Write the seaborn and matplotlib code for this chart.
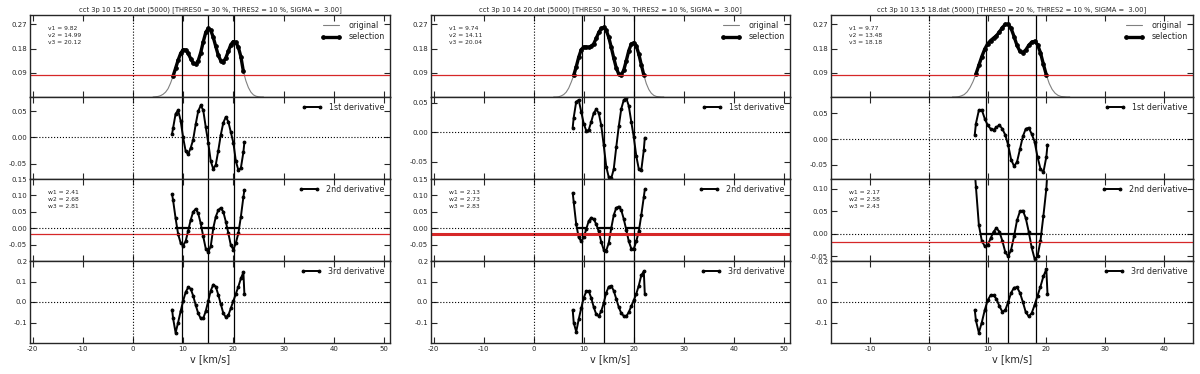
import numpy as np
import pandas as pd
import seaborn as sns
import matplotlib
matplotlib.use("Agg")
import matplotlib.pyplot as plt
from matplotlib.ticker import MultipleLocator

# ---- data ----
titles = ["cct 3p 10 15 20.dat (5000) [THRES0 = 30 %, THRES2 = 10 %, SIGMA =  3.00]",
          "cct 3p 10 14 20.dat (5000) [THRES0 = 30 %, THRES2 = 10 %, SIGMA =  3.00]",
          "cct 3p 10 13.5 18.dat (5000) [THRES0 = 20 %, THRES2 = 10 %, SIGMA =  3.00]"]

v_spec_ab = [4.0, 4.5, 5.0, 5.5, 6.0, 6.5, 7.0, 7.5, 8.0, 8.5, 9.0, 9.5, 10.0, 10.5, 11.0,
             11.5, 12.0, 12.5, 13.0, 13.5, 14.0, 14.5, 15.0, 15.5, 16.0, 16.5, 17.0, 17.5,
             18.0, 18.5, 19.0, 19.5, 20.0, 20.5, 21.0, 21.5, 22.0, 22.5, 23.0, 23.5, 24.0,
             24.5, 25.0, 25.5, 26.0]
v_spec_c = [4.0, 4.5, 5.0, 5.5, 6.0, 6.5, 7.0, 7.5, 8.0, 8.5, 9.0, 9.5, 10.0, 10.5, 11.0,
            11.5, 12.0, 12.5, 13.0, 13.5, 14.0, 14.5, 15.0, 15.5, 16.0, 16.5, 17.0, 17.5,
            18.0, 18.5, 19.0, 19.5, 20.0, 20.5, 21.0, 21.5, 22.0, 22.5, 23.0, 23.5, 24.0]

orig_a = [0.000, 0.001, 0.002, 0.005, 0.010, 0.018, 0.031, 0.052, 0.078, 0.107, 0.137, 0.162,
          0.176, 0.175, 0.162, 0.143, 0.127, 0.122, 0.135, 0.165, 0.205, 0.240, 0.255, 0.248,
          0.222, 0.188, 0.155, 0.135, 0.131, 0.145, 0.170, 0.195, 0.206, 0.203, 0.185, 0.150,
          0.095, 0.060, 0.035, 0.018, 0.008, 0.003, 0.001, 0.000, 0.000]
orig_b = [0.000, 0.000, 0.001, 0.004, 0.009, 0.018, 0.033, 0.055, 0.080, 0.112, 0.148, 0.176,
          0.186, 0.186, 0.185, 0.188, 0.198, 0.218, 0.240, 0.255, 0.259, 0.248, 0.222, 0.185,
          0.145, 0.108, 0.085, 0.082, 0.100, 0.135, 0.172, 0.197, 0.202, 0.190, 0.160, 0.120,
          0.082, 0.050, 0.028, 0.014, 0.006, 0.002, 0.001, 0.000, 0.000]
orig_c = [0.000, 0.000, 0.001, 0.004, 0.009, 0.019, 0.035, 0.057, 0.085, 0.118, 0.150, 0.178,
          0.198, 0.210, 0.219, 0.228, 0.242, 0.258, 0.270, 0.271, 0.255, 0.225, 0.192, 0.170,
          0.165, 0.175, 0.192, 0.204, 0.207, 0.195, 0.165, 0.122, 0.082, 0.050, 0.028, 0.014,
          0.006, 0.002, 0.001, 0.000, 0.000]

v_der_ab = [7.8, 8.0, 8.5, 9.0, 9.5, 10.0, 10.5, 11.0, 11.5, 12.0, 12.5, 13.0, 13.5, 14.0, 14.5,
            15.0, 15.5, 16.0, 16.5, 17.0, 17.5, 18.0, 18.5, 19.0, 19.5, 20.0, 20.5, 21.0, 21.5,
            22.0, 22.2]
v_der_c = [7.8, 8.0, 8.5, 9.0, 9.5, 10.0, 10.5, 11.0, 11.5, 12.0, 12.5, 13.0, 13.5, 14.0, 14.5,
           15.0, 15.5, 16.0, 16.5, 17.0, 17.5, 18.0, 18.5, 19.0, 19.5, 20.0, 20.2]

d1_a = [0.007, 0.018, 0.045, 0.052, 0.032, 0.000, -0.026, -0.032, -0.020, -0.004, 0.025, 0.050,
        0.061, 0.052, 0.020, -0.010, -0.045, -0.060, -0.052, -0.025, 0.005, 0.028, 0.039, 0.030,
        0.010, -0.010, -0.045, -0.062, -0.058, -0.028, -0.009]
d2_a = [0.103, 0.085, 0.030, -0.018, -0.045, -0.053, -0.040, -0.008, 0.025, 0.050, 0.059, 0.045,
        0.015, -0.025, -0.062, -0.073, -0.055, 0.000, 0.035, 0.055, 0.062, 0.050, 0.020, -0.015,
        -0.052, -0.065, -0.045, -0.015, 0.035, 0.095, 0.117]
d3_a = [-0.037, -0.080, -0.150, -0.100, -0.045, 0.005, 0.048, 0.071, 0.065, 0.030, -0.015, -0.055,
        -0.080, -0.080, -0.045, 0.005, 0.055, 0.085, 0.075, 0.035, -0.010, -0.055, -0.074, -0.065,
        -0.030, 0.005, 0.040, 0.075, 0.115, 0.145, 0.039]

d1_b = [0.008, 0.025, 0.052, 0.055, 0.035, 0.015, 0.003, 0.004, 0.018, 0.033, 0.039, 0.033,
        0.012, -0.022, -0.058, -0.076, -0.078, -0.062, -0.025, 0.010, 0.040, 0.055, 0.058, 0.045,
        0.018, -0.008, -0.040, -0.062, -0.064, -0.030, -0.009]
d2_b = [0.108, 0.080, 0.012, -0.028, -0.040, -0.028, -0.003, 0.022, 0.032, 0.028, 0.012, -0.010,
        -0.042, -0.066, -0.068, -0.045, 0.000, 0.040, 0.062, 0.066, 0.055, 0.028, -0.005, -0.040,
        -0.062, -0.063, -0.040, -0.010, 0.040, 0.095, 0.118]
d3_b = [-0.038, -0.100, -0.145, -0.085, -0.030, 0.020, 0.052, 0.053, 0.020, -0.025, -0.060, -0.069,
        -0.045, -0.005, 0.045, 0.075, 0.078, 0.055, 0.015, -0.025, -0.055, -0.068, -0.070, -0.050,
        -0.020, 0.008, 0.040, 0.080, 0.130, 0.150, 0.039]

d1_c = [0.008, 0.030, 0.056, 0.057, 0.040, 0.027, 0.020, 0.018, 0.023, 0.027, 0.020, 0.008,
        -0.012, -0.040, -0.053, -0.045, -0.020, 0.005, 0.020, 0.022, 0.010, -0.005, -0.035,
        -0.058, -0.065, -0.035, -0.011]
d2_c = [0.140, 0.105, 0.020, -0.015, -0.027, -0.025, -0.010, 0.005, 0.013, 0.005, -0.015, -0.040,
        -0.050, -0.035, -0.005, 0.030, 0.050, 0.052, 0.035, 0.005, -0.030, -0.055, -0.050,
        -0.015, 0.040, 0.100, 0.140]
d3_c = [-0.038, -0.090, -0.150, -0.100, -0.040, 0.008, 0.033, 0.033, 0.015, -0.020, -0.047, -0.040,
        0.000, 0.045, 0.070, 0.072, 0.045, 0.000, -0.050, -0.070, -0.055, -0.015, 0.030, 0.075,
        0.125, 0.160, 0.039]

# selected range, fitted centres, widths, thresholds
sel_a, sel_b, sel_c = (8.0, 22.0), (8.0, 22.0), (8.0, 20.0)
vpos_a = [9.82, 14.99, 20.12]
vpos_b = [9.74, 14.11, 20.04]
vpos_c = [9.77, 13.48, 18.18]
wid_a = [2.41, 2.68, 2.81]
wid_b = [2.13, 2.73, 2.83]
wid_c = [2.17, 2.58, 2.43]
wseg_a = [(8.4, 11.55), (13.3, 16.4), (18.4, 21.4)]
wseg_b = [(8.7, 10.75), (12.9, 15.5), (18.15, 21.3)]
wseg_c = [(8.7, 11.2), (11.2, 16.0), (16.0, 19.5)]
thres0 = [0.08, 0.08, 0.08]
thres2 = [-0.018, -0.018, -0.018]

# ---- style ----
sns.set_style("ticks")
plt.rcParams.update({
    "font.family": ["DejaVu Sans"],
    "axes.unicode_minus": False,
    "xtick.direction": "in", "ytick.direction": "in",
    "xtick.top": True, "ytick.right": True,
    "xtick.major.size": 4, "ytick.major.size": 4,
    "xtick.labelsize": 5, "ytick.labelsize": 5,
    "axes.linewidth": 1.0,
})

fig = plt.figure(figsize=(12, 3.74), dpi=100)

H = 82 / 374
BOT = 1 - 343 / 374


def draw_panel(left, width, xlim, title, v_spec, orig, sel, v_der, d1, d2, d3,
               vpos, wid, wseg, thr0, thr2, lim2, lim3, ticks3, lw_red3):
    axes = []
    for i in range(4):
        ax = fig.add_axes([left, BOT + (3 - i) * H, width, H],
                          sharex=axes[0] if axes else None)
        axes.append(ax)
    a1, a2, a3, a4 = axes

    spec = pd.DataFrame({"v": v_spec, "flux": orig})
    chosen = spec[(spec.v >= sel[0]) & (spec.v <= sel[1])]
    sns.lineplot(data=spec, x="v", y="flux", ax=a1, color="grey", lw=0.8,
                 label="original")
    sns.lineplot(data=chosen, x="v", y="flux", ax=a1, color="k", lw=2.4,
                 marker="o", markersize=2.6, markeredgecolor="k", label="selection")
    a1.axhline(thr0, color="#d62728", lw=0.9)
    a1.set_ylim(0, 0.305)
    a1.set_yticks([0.09, 0.18, 0.27])
    a1.text(0.05, 0.86, "\n".join(f"v{k + 1} = {p:.2f}" for k, p in enumerate(vpos)),
            transform=a1.transAxes, va="top", fontsize=4.3, linespacing=1.5)

    ders = [(a2, d1, "1st derivative"), (a3, d2, "2nd derivative"), (a4, d3, "3rd derivative")]
    for ax, d, lab in ders:
        sns.lineplot(x=v_der, y=d, ax=ax, color="k", lw=1.4, marker="o", markersize=2.0,
                     markeredgecolor="k", label=lab, sort=False)
        ax.axhline(0, color="k", ls=":", lw=0.8)

    a2.set_ylim(*lim2)
    a2.set_yticks([-0.05, 0.0, 0.05])
    a3.set_ylim(*lim3)
    a3.set_yticks(ticks3)
    a3.axhline(thr2, color="#d62728", lw=lw_red3)
    a3.hlines([0] * len(wseg), [s[0] for s in wseg], [s[1] for s in wseg], color="k", lw=1.6)
    a3.text(0.05, 0.86, "\n".join(f"w{k + 1} = {w:.2f}" for k, w in enumerate(wid)),
            transform=a3.transAxes, va="top", fontsize=4.3, linespacing=1.5)
    a4.set_ylim(-0.2, 0.2)
    a4.set_yticks([-0.1, 0.0, 0.1, 0.2])

    for ax in axes:
        ax.axvline(0, color="k", ls=":", lw=0.8)
        for p in vpos:
            ax.axvline(p, color="k", lw=0.9)
        ax.set_xlim(*xlim)
        ax.xaxis.set_major_locator(MultipleLocator(10))
        ax.set_ylabel("")
        ax.set_xlabel("")
        ax.tick_params(axis="both", pad=2, width=0.8)
        ax.legend(loc="upper right", frameon=False, fontsize=5.8, numpoints=2,
                  handlelength=2.6, borderaxespad=0.3, labelspacing=0.35)
        if ax is not a4:
            ax.tick_params(labelbottom=False)
    a1.set_title(title, fontsize=4.9, pad=3)
    a4.set_xlabel("v [km/s]", fontsize=7, labelpad=2)


draw_panel(30 / 1200, 360 / 1200, (-20.5, 51.2), titles[0], v_spec_ab, orig_a, sel_a,
           v_der_ab, d1_a, d2_a, d3_a, vpos_a, wid_a, wseg_a, thres0[0], thres2[0],
           (-0.079, 0.077), (-0.1, 0.15), [-0.05, 0.0, 0.05, 0.10, 0.15], 0.9)
draw_panel(431 / 1200, 359 / 1200, (-20.5, 51.2), titles[1], v_spec_ab, orig_b, sel_b,
           v_der_ab, d1_b, d2_b, d3_b, vpos_b, wid_b, wseg_b, thres0[1], thres2[1],
           (-0.079, 0.060), (-0.1, 0.15), [-0.05, 0.0, 0.05, 0.10, 0.15], 2.2)
draw_panel(831 / 1200, 362 / 1200, (-16.7, 45.0), titles[2], v_spec_c, orig_c, sel_c,
           v_der_c, d1_c, d2_c, d3_c, vpos_c, wid_c, wseg_c, thres0[2], thres2[2],
           (-0.078, 0.082), (-0.06, 0.122), [-0.05, 0.0, 0.05, 0.10], 0.9)

fig.savefig("out.png", dpi=100)
